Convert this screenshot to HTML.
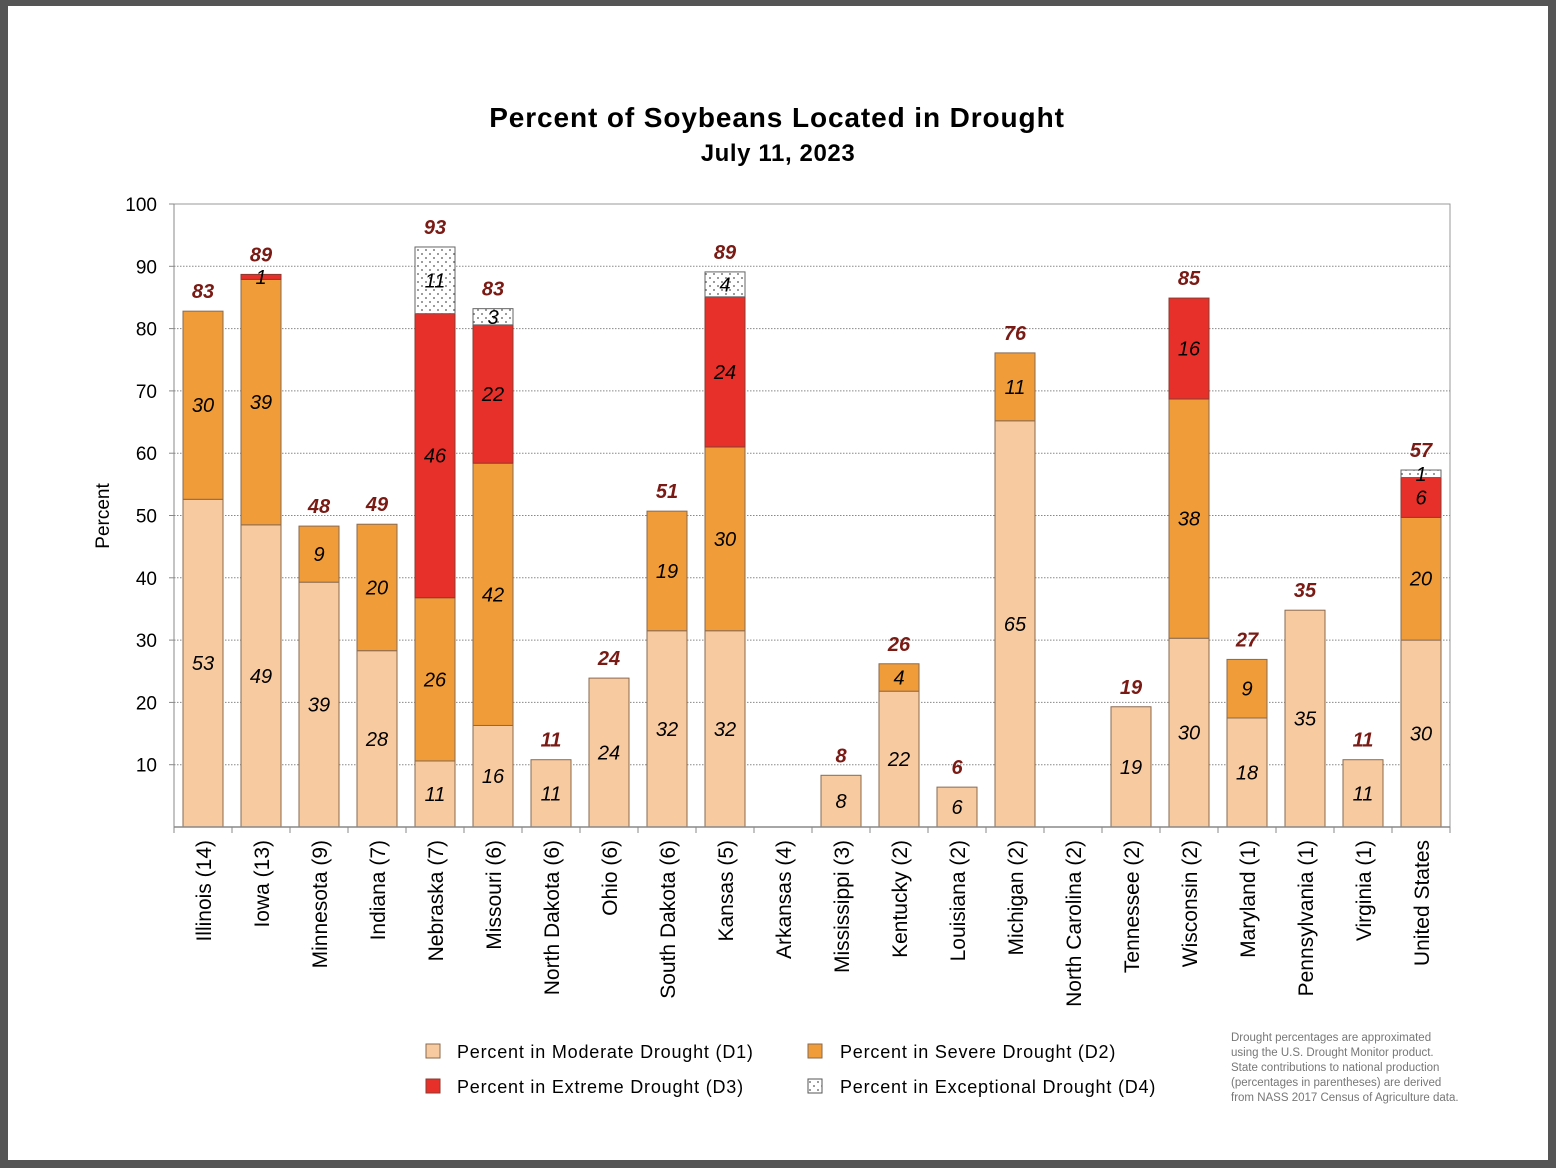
<!DOCTYPE html>
<html><head><meta charset="utf-8"><style>
html,body{margin:0;padding:0;background:#555;}
body{width:1556px;height:1168px;overflow:hidden;font-family:"Liberation Sans",Arial,sans-serif;}
#page{position:absolute;left:8px;top:6px;width:1540px;height:1154px;background:#fff;}
</style></head><body>
<div id="page">
<svg id="chart" width="1556" height="1168" style="position:absolute;left:-8px;top:-6px">
<defs><pattern id="dots" width="8" height="8" patternUnits="userSpaceOnUse"><rect width="8" height="8" fill="#fff"/><circle cx="2" cy="2" r="0.9" fill="#555"/><circle cx="6" cy="6" r="0.9" fill="#555"/></pattern></defs>
<text x="777" y="127" text-anchor="middle" font-size="28" font-weight="bold" letter-spacing="0.9">Percent of Soybeans Located in Drought</text>
<text x="778" y="161" text-anchor="middle" font-size="24" font-weight="bold" letter-spacing="0.6">July 11, 2023</text>
<text transform="translate(109,516) rotate(-90)" text-anchor="middle" font-size="19">Percent</text>
<g id="grid"></g><g id="bars"></g><g id="axes"></g>
<g font-size="18" letter-spacing="0.8">
<rect x="426" y="1044" width="14" height="14" fill="#f8caa0" stroke="#8a6a50"/>
<text x="457" y="1058">Percent in Moderate Drought (D1)</text>
<rect x="808" y="1044" width="14" height="14" fill="#f09c38" stroke="#8a6a50"/>
<text x="840" y="1058">Percent in Severe Drought (D2)</text>
<rect x="426" y="1079" width="14" height="14" fill="#e8302a" stroke="#8a3a30"/>
<text x="457" y="1093">Percent in Extreme Drought (D3)</text>
<rect x="808" y="1079" width="14" height="14" fill="url(#dots)" stroke="#555"/>
<text x="840" y="1093">Percent in Exceptional Drought (D4)</text>
</g>
<g font-size="11.5" fill="#777">
<text x="1231" y="1041">Drought percentages are approximated</text>
<text x="1231" y="1056">using the U.S. Drought Monitor product.</text>
<text x="1231" y="1071">State contributions to national production</text>
<text x="1231" y="1086">(percentages in parentheses) are derived</text>
<text x="1231" y="1101">from NASS 2017 Census of Agriculture data.</text>
</g>
</svg></div>
<script>
const categories=["Illinois (14)","Iowa (13)","Minnesota (9)","Indiana (7)","Nebraska (7)","Missouri (6)","North Dakota (6)","Ohio (6)","South Dakota (6)","Kansas (5)","Arkansas (4)","Mississippi (3)","Kentucky (2)","Louisiana (2)","Michigan (2)","North Carolina (2)","Tennessee (2)","Wisconsin (2)","Maryland (1)","Pennsylvania (1)","Virginia (1)","United States"];
const d1=[52.6,48.5,39.3,28.3,10.6,16.3,10.8,23.9,31.5,31.5,0,8.3,21.8,6.4,65.2,0,19.3,30.3,17.5,34.8,10.8,30.0];
const d2=[30.2,39.4,9.0,20.3,26.2,42.1,0,0,19.2,29.5,0,0,4.4,0,10.9,0,0,38.4,9.4,0,0,19.7];
const d3=[0,0.8,0,0,45.6,22.2,0,0,0,24.1,0,0,0,0,0,0,0,16.2,0,0,0,6.4];
const d4=[0,0,0,0,10.7,2.6,0,0,0,4.0,0,0,0,0,0,0,0,0,0,0,0,1.2];
const yTicks=[10,20,30,40,50,60,70,80,90,100];
const NS="http://www.w3.org/2000/svg";
const X0=174,X1=1450,Y0=827,Y100=204;
const step=(X1-X0)/categories.length,bw=40;
const y=v=>Y0-(Y0-Y100)*v/100;
const xc=i=>X0+step*(i+0.5);
function mk(tag,attrs,parent){const e=document.createElementNS(NS,tag);for(const k in attrs)e.setAttribute(k,attrs[k]);parent.appendChild(e);return e;}
const grid=document.getElementById('grid'),bars=document.getElementById('bars'),axes=document.getElementById('axes');
mk('rect',{x:X0,y:Y100,width:X1-X0,height:Y0-Y100,fill:'none',stroke:'#999','stroke-width':1},grid);
yTicks.forEach(t=>{
  if(t<100){const l=mk('line',{x1:X0,x2:X1,y1:y(t),y2:y(t),stroke:'#888','stroke-dasharray':'1.5,1.5','stroke-width':1},grid);
  
  }
  mk('line',{x1:X0-5,x2:X0,y1:y(t),y2:y(t),stroke:'#888'},axes);
  const tx=mk('text',{x:157,y:y(t)+7,'text-anchor':'end','font-size':19},axes);tx.textContent=t;
  
  
});
mk('line',{x1:X0,x2:X0,y1:Y100,y2:Y0,stroke:'#888'},axes);
mk('line',{x1:X0,x2:X1,y1:Y0,y2:Y0,stroke:'#888','stroke-width':1.5},axes);
for(let i=0;i<=categories.length;i++)mk('line',{x1:X0+step*i,x2:X0+step*i,y1:Y0,y2:Y0+6,stroke:'#888'},axes);
const series=[[d1,'#f8caa0','#8a6a50','#000'],[d2,'#f09c38','#8a6a50','#000'],[d3,'#e8302a','#8a3a30','#000'],[d4,'url(#dots)','#666','#000']];
categories.forEach((c,i)=>{
  let base=0;
  series.forEach((s,k)=>{
    const v=s[0][i];if(v<=0)return;
    const r=mk('rect',{x:xc(i)-bw/2,y:y(base+v),width:bw,height:y(base)-y(base+v),fill:s[1],stroke:s[2],'stroke-width':1},bars);
    
    
    const t=mk('text',{x:xc(i),y:(y(base)+y(base+v))/2+7,'text-anchor':'middle','font-size':20,'font-style':'italic'},bars);
    t.textContent=Math.round(v);
    
    
    base+=v;
  });
  if(base>0){
    const t=mk('text',{x:xc(i),y:y(base)-13,'text-anchor':'middle','font-size':20,'font-style':'italic','font-weight':'bold',fill:'#7a1a14'},bars);
    t.textContent=Math.round(base);
    
    
  }
  const lx=mk('text',{transform:`translate(${xc(i)+8},840) rotate(-90)`,'text-anchor':'end','font-size':21},axes);
  lx.textContent=c;
  
  
});
</script>
</body></html>
